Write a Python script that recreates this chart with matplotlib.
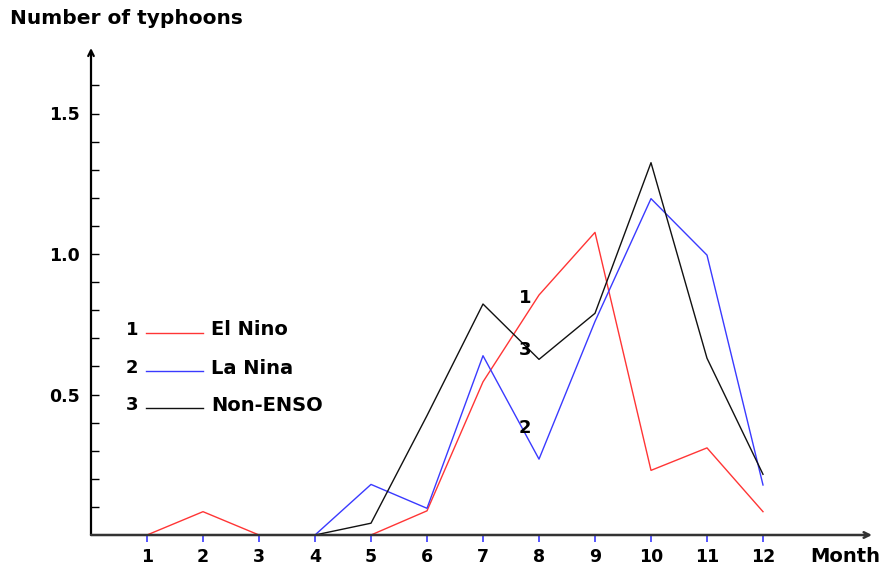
import numpy as np
import matplotlib
matplotlib.use("Agg")
import matplotlib.pyplot as plt
from matplotlib.ticker import FixedLocator

# Dados
meses = [1, 2, 3, 4, 5, 6, 7, 8, 9, 10, 11, 12]
el_nino = [0, 0.083, 0, 0, 0, 0.086, 0.545, 0.854, 1.077, 0.23, 0.31, 0.083]

meses_b = [4, 5, 6, 7, 8, 9, 10, 11, 12]
la_nina = [0, 0.18, 0.095, 0.638, 0.27, 0.76, 1.197, 0.996, 0.178]
non_enso = [0, 0.042, 0.425, 0.822, 0.625, 0.789, 1.325, 0.629, 0.216]

nomes = ["El Nino", "La Nina", "Non-ENSO"]
cores = ["#ff3535", "#3a3aff", "#111111"]

fig = plt.figure(figsize=(8.82, 5.69), dpi=100)
ax = fig.add_axes([91 / 882, 34 / 569, (872 - 91) / 882, (535 - 48) / 569])

xmax = (872 - 91) / 56
ymax = (535 - 48) / 281
ax.set_xlim(0, xmax)
ax.set_ylim(0, ymax)

for s in ax.spines.values():
    s.set_visible(False)

# eixos com setas
ax.annotate("", xy=(0, ymax), xytext=(0, 0),
            arrowprops=dict(arrowstyle="->", lw=1.6, color="black", shrinkA=0, shrinkB=0),
            annotation_clip=False)
ax.annotate("", xy=(xmax, 0), xytext=(0, 0),
            arrowprops=dict(arrowstyle="->", lw=1.8, color="#333333", shrinkA=0, shrinkB=0),
            annotation_clip=False)

ax.plot(meses, el_nino, color=cores[0], lw=1.0, clip_on=False)
ax.plot(meses_b, la_nina, color=cores[1], lw=1.0, clip_on=False)
ax.plot(meses_b, non_enso, color=cores[2], lw=1.0, clip_on=False)

# ticks
ax.set_xticks(meses)
ax.set_xticklabels([str(m) for m in meses], fontsize=12.5, fontweight="bold")
ax.tick_params(axis="x", direction="out", length=5, width=1.2, color="#3a3aff", pad=4)

ax.set_yticks([0.5, 1.0, 1.5])
ax.set_yticklabels(["0.5", "1.0", "1.5"], fontsize=12.5, fontweight="bold")
ax.yaxis.set_minor_locator(FixedLocator([i / 10 for i in range(1, 17)]))
ax.tick_params(axis="y", which="both", direction="in", length=6, width=1.0, color="black", pad=8)

# legenda manual
leg_y = [0.73, 0.593, 0.462]
for i in range(3):
    ax.text(0.73, leg_y[i], str(i + 1), fontsize=13, fontweight="bold", ha="center", va="center")
    ax.plot([0.98, 2.0], [leg_y[i] - 0.01, leg_y[i] - 0.01], color=cores[i], lw=1.0)
    ax.text(2.14, leg_y[i], nomes[i], fontsize=14, fontweight="bold", ha="left", va="center")

# rótulos nas curvas
ax.text(7.75, 0.843, "1", fontsize=13, fontweight="bold", ha="center", va="center")
ax.text(7.75, 0.658, "3", fontsize=13, fontweight="bold", ha="center", va="center")
ax.text(7.75, 0.38, "2", fontsize=13, fontweight="bold", ha="center", va="center")

fig.text(10 / 882, 1 - 18 / 569, "Number of typhoons", fontsize=14.5, fontweight="bold",
         ha="left", va="center")
fig.text(880 / 882, 1 - 556 / 569, "Month", fontsize=14, fontweight="bold",
         ha="right", va="center")

fig.savefig("out.png", dpi=100)
